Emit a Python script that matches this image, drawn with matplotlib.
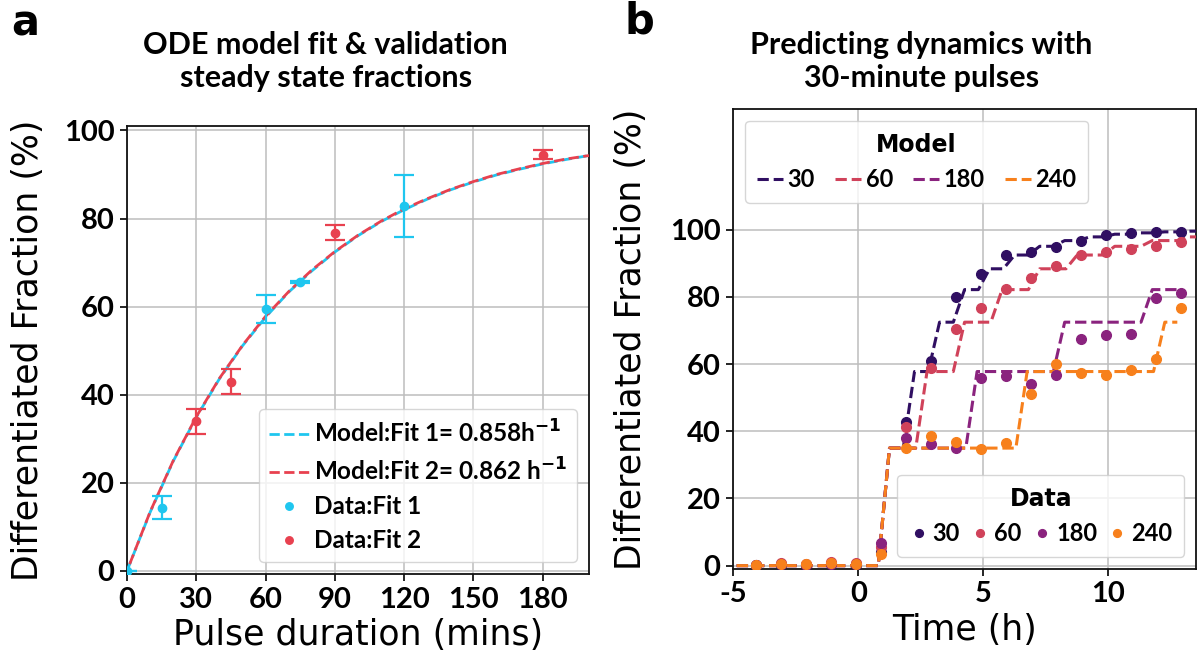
import matplotlib
matplotlib.use('Agg')
import matplotlib.pyplot as plt
from matplotlib.font_manager import FontProperties
from matplotlib.lines import Line2D

plt.rcParams['font.family'] = ['Lato', 'DejaVu Sans']
plt.rcParams['axes.unicode_minus'] = False
plt.rcParams['mathtext.fontset'] = 'dejavusans'
plt.rcParams['mathtext.default'] = 'bf'

# ---------------- Panel a data ----------------
fit1_x = [0, 15, 60, 75, 120]
fit1_y = [0.0, 14.4, 59.5, 65.6, 82.8]
fit1_err = [0.0, 2.5, 3.2, 0.3, 7.0]
fit2_x = [30, 45, 90, 180]
fit2_y = [34.0, 43.0, 76.8, 94.5]
fit2_err = [2.8, 2.8, 1.7, 1.0]

model_x = [0, 10, 20, 30, 40, 50, 60, 70, 80, 90, 100, 110, 120, 130, 140,
           150, 160, 170, 180, 190, 200]
model1_y = [0.0, 13.3, 24.9, 34.9, 43.6, 51.1, 57.6, 63.3, 68.1, 72.4, 76.1,
            79.3, 82.0, 84.4, 86.5, 88.3, 89.9, 91.2, 92.4, 93.4, 94.3]
model2_y = [0.0, 13.4, 25.0, 35.0, 43.7, 51.2, 57.8, 63.4, 68.3, 72.5, 76.2,
            79.4, 82.2, 84.5, 86.6, 88.4, 90.0, 91.3, 92.5, 93.5, 94.3]
labels_a = ['Model:Fit 1= 0.858h$^{-1}$', 'Model:Fit 2= 0.862 h$^{-1}$',
            'Data:Fit 1', 'Data:Fit 2']
xticks_a = [0, 30, 60, 90, 120, 150, 180]
yticks = [0, 20, 40, 60, 80, 100]

# ---------------- Panel b data ----------------
groups = ['30', '60', '180', '240']
t_data = [-4.1, -3.1, -2.1, -1.1, -0.1, 0.9, 1.9, 2.9, 3.9, 4.9, 5.9, 6.9,
          7.9, 8.9, 9.9, 10.9, 11.9, 12.9]
d30 = [0.2, 0.3, 0.2, 0.4, 0.3, 4.0, 42.8, 60.8, 80.1, 86.9, 92.5, 93.5,
       95.0, 96.8, 98.5, 99.0, 99.4, 99.5]
d60 = [0.3, 0.7, 0.6, 1.0, 0.8, 5.5, 41.4, 58.8, 70.4, 76.7, 82.4, 85.8,
       89.1, 92.5, 93.3, 94.3, 95.2, 96.5]
d180 = [0.2, 0.4, 0.3, 0.6, 0.5, 6.8, 37.9, 36.3, 35.0, 55.8, 56.5, 54.0,
        56.7, 67.5, 68.7, 68.9, 79.6, 81.3]
d240 = [0.3, 0.5, 0.4, 0.7, 0.6, 3.6, 35.0, 38.5, 36.8, 34.8, 36.6, 51.2,
        60.1, 57.5, 56.8, 58.4, 61.5, 76.8]

# model: pulse start times (h) and plateau level reached after each pulse (%)
m30_start = [0.8, 1.8, 2.8, 3.8, 4.8, 5.8, 6.8, 7.8, 8.8, 9.8, 10.8, 11.8, 12.8]
m30_level = [35.0, 57.8, 72.5, 82.2, 88.4, 92.5, 95.1, 96.8, 97.9, 98.7, 99.1, 99.4, 99.6]
m60_start = [0.8, 2.3, 3.8, 5.3, 6.8, 8.3, 9.8, 11.3, 12.8]
m60_level = [35.0, 57.8, 72.5, 82.2, 88.4, 92.5, 95.1, 96.8, 97.9]
m180_start = [0.8, 4.3, 7.8, 11.3]
m180_level = [35.0, 57.8, 72.5, 82.2]
m240_start = [0.8, 6.3, 11.8]
m240_level = [35.0, 57.8, 72.5]
model_end = [14.0, 14.0, 12.75, 12.75]
rise_h = 0.45
xticks_b = [-5, 0, 5, 10]

cyan = '#1fc6ef'
red_a = '#e8414f'
colors_b = ['#300f62', '#d0425a', '#8a237e', '#f7801c']

label_fp = dict(fontsize=25, family='DejaVu Sans')

fig = plt.figure(figsize=(11.98, 6.64), dpi=100)
axa = fig.add_axes([0.1060, 0.1355, 0.3856, 0.6747])
axb = fig.add_axes([0.6119, 0.1431, 0.3865, 0.6928])

for ax in (axa, axb):
    ax.grid(True, color='#bdbdbd', linewidth=1.1)
    ax.set_axisbelow(True)
    for s in ax.spines.values():
        s.set_linewidth(1.3)
        s.set_color('#111111')
    ax.tick_params(axis='both', length=5, width=1.2, labelsize=21, pad=4)

# ---- Panel a ----
axa.plot(model_x, model1_y, color=cyan, lw=2.0, ls='--', zorder=3)
axa.plot(model_x, model2_y, color=red_a, lw=2.0, ls=(2.65, (3.7, 1.6)), zorder=3)
axa.errorbar(fit1_x, fit1_y, yerr=fit1_err, fmt='none', ecolor=cyan,
             elinewidth=1.6, capsize=7, capthick=1.6, zorder=4)
axa.errorbar(fit2_x, fit2_y, yerr=fit2_err, fmt='none', ecolor=red_a,
             elinewidth=1.6, capsize=7, capthick=1.6, zorder=4)
p1, = axa.plot(fit1_x, fit1_y, 'o', color=cyan, ms=6, zorder=5)
p2, = axa.plot(fit2_x, fit2_y, 'o', color=red_a, ms=6, zorder=5)
h1 = Line2D([], [], color=cyan, lw=2.0, ls='--')
h2 = Line2D([], [], color=red_a, lw=2.0, ls='--')
axa.set_xlim(0, 200)
axa.set_ylim(-0.7, 101)
axa.set_xticks(xticks_a)
axa.set_yticks(yticks)
axa.set_xticklabels([str(v) for v in xticks_a], fontweight='bold')
axa.set_yticklabels([str(v) for v in yticks], fontweight='bold')
axa.set_xlabel('Pulse duration (mins)', labelpad=4, **label_fp)
axa.set_ylabel('Differentiated Fraction (%)', **label_fp)
axa.yaxis.set_label_coords(-0.177, 0.5)
leg_a = axa.legend([h1, h2, p1, p2], labels_a, loc='lower right',
                   prop=FontProperties(family=['Lato', 'DejaVu Sans'], weight='bold', size=17.5),
                   handletextpad=0.2, handlelength=1.65, labelspacing=0.45,
                   borderpad=0.4, markerscale=0.9)

# ---- Panel b ----
d_all = [d30, d60, d180, d240]
starts = [m30_start, m60_start, m180_start, m240_start]
levels = [m30_level, m60_level, m180_level, m240_level]
model_handles = []
data_handles = []
for g, c, st, lv, te in zip(groups, colors_b, starts, levels, model_end):
    mx = [-5.5]
    my = [0.0]
    prev = 0.0
    for s, l in zip(st, lv):
        mx += [s, s + rise_h]
        my += [prev, l]
        prev = l
    mx.append(te)
    my.append(prev)
    h, = axb.plot(mx, my, ls='--', color=c, lw=2.2, label=g, zorder=3)
    model_handles.append(h)
for g, c, ys in zip(groups, colors_b, d_all):
    h, = axb.plot(t_data, ys, 'o', color=c, ms=7, label=g, lw=0, zorder=4)
    data_handles.append(h)

axb.set_xlim(-5, 13.5)
axb.set_ylim(-1, 136)
axb.set_xticks(xticks_b)
axb.set_yticks(yticks)
axb.set_xticklabels([str(v) for v in xticks_b], fontweight='bold')
axb.set_yticklabels([str(v) for v in yticks], fontweight='bold')
axb.set_xlabel('Time (h)', labelpad=4, **label_fp)
axb.set_ylabel('Differentiated Fraction (%)', **label_fp)
axb.yaxis.set_label_coords(-0.184, 0.5)

title_fp = FontProperties(family='DejaVu Sans', weight='bold', size=17)
lab_fp = FontProperties(family=['Lato', 'DejaVu Sans'], weight='bold', size=17)
leg1 = axb.legend(handles=model_handles, loc='upper left', ncol=4, title='Model',
                  title_fontproperties=title_fp, prop=lab_fp, handlelength=1.1,
                  handletextpad=0.2, columnspacing=0.85, borderpad=0.5)
axb.add_artist(leg1)
leg2 = axb.legend(handles=data_handles, loc='lower right', ncol=4, title='Data',
                  title_fontproperties=title_fp, prop=lab_fp, handlelength=0.8,
                  handletextpad=0.2, columnspacing=0.45, borderpad=0.5, markerscale=0.8)

# ---- titles and panel letters ----
fig.text(0.272, 0.907, 'ODE model fit & validation\nsteady state fractions',
         ha='center', va='center', fontsize=22, fontweight='bold', linespacing=1.2)
fig.text(0.769, 0.907, 'Predicting dynamics with\n30-minute pulses',
         ha='center', va='center', fontsize=22, fontweight='bold', linespacing=1.2)
fig.text(0.009, 0.947, 'a', ha='left', va='baseline', fontsize=30,
         fontweight='bold', family='DejaVu Sans')
fig.text(0.521, 0.950, 'b', ha='left', va='baseline', fontsize=30,
         fontweight='bold', family='DejaVu Sans')

fig.savefig('out.png', dpi=100)
